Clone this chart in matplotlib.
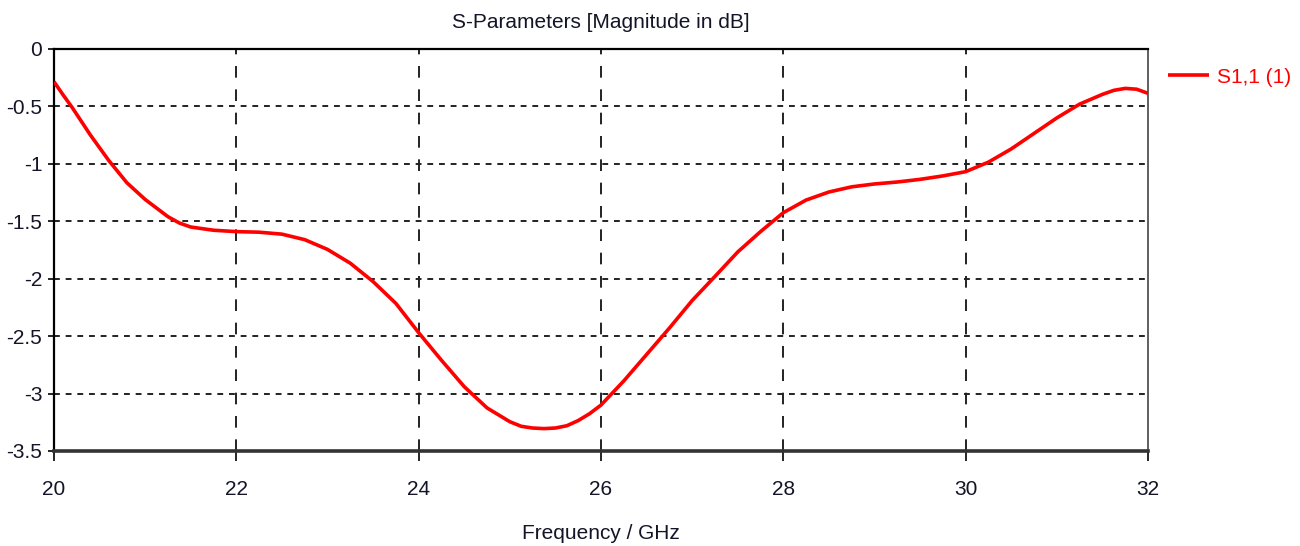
# -*- coding: utf-8 -*-

import matplotlib
matplotlib.use("Agg")
import matplotlib.pyplot as plt

# S1,1 magnitude (GHz, dB)
freq_ghz = [20.0, 20.1, 20.2, 20.4, 20.6, 20.8, 21.0, 21.125, 21.25, 21.375,
            21.5, 21.75, 22.0, 22.25, 22.5, 22.75, 23.0, 23.25, 23.5, 23.75,
            24.0, 24.25, 24.5, 24.75, 25.0, 25.125, 25.25, 25.375, 25.5, 25.625,
            25.75, 25.875, 26.0, 26.25, 26.5, 26.75, 27.0, 27.25, 27.5, 27.75,
            28.0, 28.25, 28.5, 28.75, 29.0, 29.25, 29.5, 29.75, 30.0, 30.25,
            30.5, 30.75, 31.0, 31.25, 31.5, 31.625, 31.75, 31.875, 32.0]
s11_db = [-0.285, -0.40, -0.51, -0.75, -0.97, -1.165, -1.31, -1.385, -1.46, -1.515,
          -1.55, -1.578, -1.59, -1.595, -1.612, -1.66, -1.745, -1.865, -2.025, -2.215,
          -2.47, -2.71, -2.94, -3.125, -3.245, -3.285, -3.30, -3.305, -3.30, -3.28,
          -3.235, -3.175, -3.10, -2.89, -2.66, -2.43, -2.19, -1.98, -1.767, -1.59,
          -1.425, -1.315, -1.245, -1.20, -1.175, -1.158, -1.135, -1.105, -1.068, -0.985,
          -0.87, -0.735, -0.60, -0.48, -0.395, -0.36, -0.343, -0.35, -0.386]

x_ticks = [20, 22, 24, 26, 28, 30, 32]
y_ticks = [0, -0.5, -1, -1.5, -2, -2.5, -3, -3.5]
y_labels = ["0", "-0.5", "-1", "-1.5", "-2", "-2.5", "-3", "-3.5"]

plt.rcParams['font.family'] = ['Liberation Sans', 'DejaVu Sans']
txt = '#141428'
fs = 15

fig = plt.figure(figsize=(13, 5.46), dpi=100)
ax = fig.add_axes([54 / 1300, 1 - 451 / 546, 1094 / 1300, 402 / 546])

ax.plot(freq_ghz, s11_db, color='#ff0000', linewidth=2.6, label='S1,1 (1)',
        solid_joinstyle='round', solid_capstyle='butt', zorder=3)

ax.set_xlim(20, 32)
ax.set_ylim(-3.5, 0)
ax.set_xticks(x_ticks)
ax.set_yticks(y_ticks)
ax.set_yticklabels(y_labels)

# dashed vertical grid, dotted horizontal grid
for xv in x_ticks[1:-1]:
    ax.axvline(xv, color='#222222', linewidth=1.4, linestyle=(0, (6, 6)), zorder=1)
for yv in y_ticks[1:-1]:
    ax.axhline(yv, color='#222222', linewidth=1.4, linestyle=(0, (3, 3)), zorder=1)

ax.tick_params(axis='x', direction='out', length=7, width=1.2, pad=14,
               labelsize=fs, colors='black', labelcolor=txt)
ax.tick_params(axis='y', direction='out', length=4.5, width=1.2, pad=4,
               labelsize=fs, colors='black', labelcolor=txt)

for side in ['left', 'top']:
    ax.spines[side].set_linewidth(1.6)
    ax.spines[side].set_color('black')
ax.spines['right'].set_linewidth(1.2)
ax.spines['right'].set_color('#444444')
ax.spines['bottom'].set_linewidth(2.6)
ax.spines['bottom'].set_color('#333333')

ax.set_title('S-Parameters [Magnitude in dB]', fontsize=fs, color=txt, pad=15)
ax.set_xlabel('Frequency / GHz', fontsize=fs, color=txt, labelpad=18)

ax.legend(loc='center left', bbox_to_anchor=(1.018, 0.93), frameon=False,
          fontsize=fs, handlelength=2.0, handletextpad=0.35,
          borderpad=0, borderaxespad=0, labelcolor='#ff0000')

fig.savefig('out.png', dpi=100)
